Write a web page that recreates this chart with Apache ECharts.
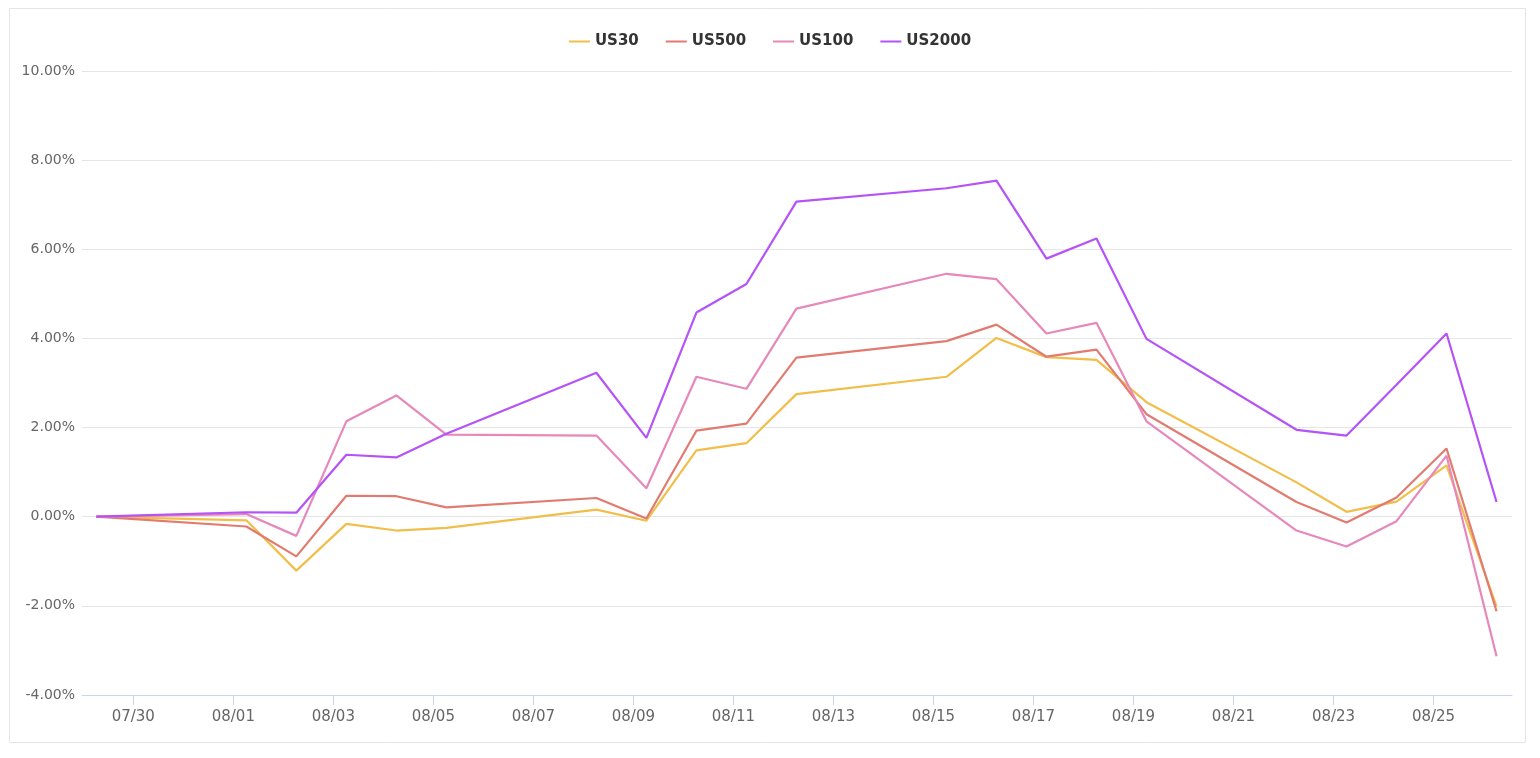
<!DOCTYPE html>
<html>
<head>
<meta charset="utf-8">
<script src="https://cdn.jsdelivr.net/npm/echarts@6/dist/echarts.min.js"></script>
<style>
  html, body { margin: 0; padding: 0; background: #ffffff; }
  #chart { width: 1540px; height: 758px; }
</style>
</head>
<body>
<div id="chart"></div>
<script>
// ---- data ----
const dates = ['2022-07-29 06:15', '2022-08-01 06:15', '2022-08-02 06:15', '2022-08-03 06:15', '2022-08-04 06:15',
  '2022-08-05 06:15', '2022-08-08 06:15', '2022-08-09 06:15', '2022-08-10 06:15', '2022-08-11 06:15',
  '2022-08-12 06:15', '2022-08-15 06:15', '2022-08-16 06:15', '2022-08-17 06:15', '2022-08-18 06:15',
  '2022-08-19 06:15', '2022-08-22 06:15', '2022-08-23 06:15', '2022-08-24 06:15', '2022-08-25 06:15',
  '2022-08-26 06:15'];
const us30   = [0, -0.08, -1.21, -0.16, -0.31, -0.25, 0.16, -0.09, 1.49, 1.65, 2.75, 3.14, 4.01, 3.58, 3.52, 2.57, 0.77, 0.11, 0.34, 1.15, -2.01];
const us500  = [0, -0.22, -0.89, 0.47, 0.46, 0.21, 0.42, -0.04, 1.93, 2.09, 3.57, 3.94, 4.31, 3.59, 3.75, 2.30, 0.33, -0.13, 0.43, 1.53, -2.12];
const us100  = [0, 0.06, -0.43, 2.14, 2.72, 1.84, 1.82, 0.64, 3.14, 2.87, 4.67, 5.45, 5.33, 4.11, 4.35, 2.14, -0.31, -0.67, -0.10, 1.37, -3.13];
const us2000 = [0, 0.10, 0.09, 1.39, 1.33, 1.86, 3.23, 1.77, 4.58, 5.22, 7.07, 7.37, 7.54, 5.79, 6.24, 3.99, 1.95, 1.82, 2.96, 4.11, 0.33];
const seriesNames = ['US30', 'US500', 'US100', 'US2000'];
const xTicks = ['2022-07-30', '2022-08-01', '2022-08-03', '2022-08-05', '2022-08-07', '2022-08-09', '2022-08-11',
  '2022-08-13', '2022-08-15', '2022-08-17', '2022-08-19', '2022-08-21', '2022-08-23', '2022-08-25'];
const yMin = -4, yMax = 10, yStep = 2;
const xRange = ['2022-07-28 23:23', '2022-08-26 13:40'];

// ---- helpers ----
function ts(s) {
  const p = s.split(/[- :]/).map(Number);
  return Date.UTC(p[0], p[1] - 1, p[2], p[3] || 0, p[4] || 0);
}
function fmtDate(v) {
  const d = new Date(v);
  const mm = String(d.getUTCMonth() + 1).padStart(2, '0');
  const dd = String(d.getUTCDate()).padStart(2, '0');
  return mm + '/' + dd;
}
const pairs = arr => dates.map((d, i) => [ts(d), arr[i]]);
const colors = ['#f2be4a', '#e27b6f', '#e688bb', '#b553f6'];
const values = [us30, us500, us100, us2000];
const labelFont = 'DejaVu Sans, Verdana, sans-serif';
const tickVals = xTicks.map(ts);

const chart = echarts.init(document.getElementById('chart'), null, { renderer: 'canvas' });
chart.setOption({
  animation: false,
  backgroundColor: '#ffffff',
  color: colors,
  graphic: [{
    type: 'rect',
    shape: { x: 9.5, y: 8.5, width: 1516, height: 734 },
    style: { fill: 'none', stroke: '#e1e7e9', lineWidth: 1 },
    silent: true, z: -10
  }],
  legend: {
    top: 29,
    left: 'center',
    icon: 'rect',
    itemWidth: 21,
    itemHeight: 2,
    itemGap: 27,
    textStyle: { color: '#333333', fontSize: 15, fontWeight: 'bold', fontFamily: labelFont },
    data: seriesNames
  },
  grid: { left: 82, right: 28, top: 71, bottom: 63 },
  xAxis: {
    type: 'value',
    min: ts(xRange[0]),
    max: ts(xRange[1]),
    axisLine: { show: true, onZero: false, lineStyle: { color: '#ccd6eb', width: 1 } },
    axisTick: {
      show: true, length: 10, lineStyle: { color: '#ccd6eb' },
      customValues: tickVals
    },
    axisLabel: {
      color: '#666666', fontSize: 15, fontFamily: labelFont, margin: 15,
      customValues: tickVals,
      formatter: v => fmtDate(v)
    },
    splitLine: { show: false }
  },
  yAxis: {
    type: 'value',
    min: yMin, max: yMax, interval: yStep,
    axisLine: { show: false },
    axisTick: { show: false },
    axisLabel: {
      color: '#666666', fontSize: 14, fontFamily: labelFont, margin: 7,
      formatter: v => v.toFixed(2) + '%'
    },
    splitLine: { lineStyle: { color: '#e6e6e6', width: 1 } }
  },
  series: seriesNames.map((name, i) => ({
    name,
    type: 'line',
    data: pairs(values[i]),
    showSymbol: false,
    symbol: 'none',
    lineStyle: { width: 2.2, color: colors[i] },
    itemStyle: { color: colors[i] },
    emphasis: { disabled: true }
  }))
});
</script>
</body>
</html>
